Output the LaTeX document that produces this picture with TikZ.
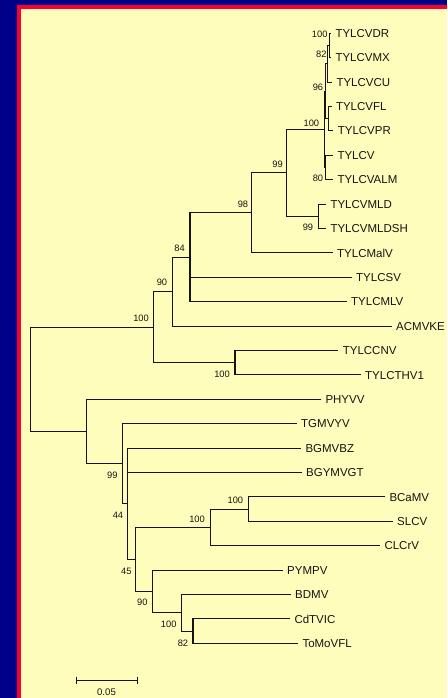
\documentclass[tikz,border=0pt]{standalone}
\usepackage{fontspec}
\setmainfont{Liberation Sans}
\definecolor{bgblue}{RGB}{0,0,136}
\definecolor{frred}{RGB}{250,0,50}
\definecolor{panel}{RGB}{255,253,187}
\definecolor{inkc}{RGB}{20,20,20}
\tikzset{
  br/.style={draw=inkc, line width=1.1pt, line join=miter},
  leaf/.style={anchor=base west, inner sep=0pt, xshift=4.3pt, yshift=-4.1pt,
    font=\fontsize{11.5}{13}\selectfont, text=inkc},
  bs/.style={anchor=east, inner sep=0pt, font=\fontsize{9.3}{11}\selectfont, text=inkc}
}
\begin{document}
\begin{tikzpicture}[x=1pt,y=-1pt]
\useasboundingbox (0,0) rectangle (447,698);
% frame: blue ground, red rim, pale yellow panel
\fill[bgblue] (0,0) rectangle (447,698);
\fill[frred] (17,5.5) rectangle (447,698);
\fill[panel] (21,9.5) rectangle (447,698);

% leaf branch ends
\coordinate (lDR)   at (331,33.3);
\coordinate (lMX)   at (331,57.7);
\coordinate (lCU)   at (332,82.1);
\coordinate (lFL)   at (331.5,106.5);
\coordinate (lPR)   at (333.3,130.9);
\coordinate (lTY)   at (333,155.3);
\coordinate (lALM)  at (333,179.7);
\coordinate (lMLD)  at (326,204.1);
\coordinate (lMLDSH) at (326,228.5);
\coordinate (lMalV) at (332.7,252.9);
\coordinate (lSV)   at (351.7,277.3);
\coordinate (lMLV)  at (346.7,301.7);
\coordinate (lACM)  at (391.7,326.1);
\coordinate (lCNV)  at (338.3,350.5);
\coordinate (lTHV)  at (360.7,374.9);
\coordinate (lPHY)  at (321,399.3);
\coordinate (lTGM)  at (296.7,423.7);
\coordinate (lBZ)   at (301,448.1);
\coordinate (lGT)   at (301.7,472.5);
\coordinate (lBCa)  at (385,496.9);
\coordinate (lSLCV) at (392.7,521.3);
\coordinate (lCLCrV) at (380,545.7);
\coordinate (lPYM)  at (282.7,570.1);
\coordinate (lBDMV) at (290.7,594.5);
\coordinate (lCdT)  at (290,618.9);
\coordinate (lToMo) at (298,643.3);

% internal nodes
\coordinate (n100b) at (329.5,45.5);
\coordinate (n82)   at (327.7,63.8);
\coordinate (nFP)   at (328.3,118.7);
\coordinate (n96)   at (325.9,91.25);
\coordinate (n80)   at (325.7,167.5);
\coordinate (n100a) at (324.3,129.4);
\coordinate (n99m)  at (318.3,216.3);
\coordinate (n99t)  at (286.7,172.85);
\coordinate (n98)   at (251.7,212.9);
\coordinate (n84)   at (190,257.3);
\coordinate (n90)   at (172.3,291.7);
\coordinate (nCN)   at (235,362.7);
\coordinate (n100t) at (153.7,327.2);
\coordinate (n100d) at (248.7,509.1);
\coordinate (n100c) at (210.7,527.4);
\coordinate (n82l)  at (193,631.1);
\coordinate (n100e) at (181.7,612.8);
\coordinate (n90l)  at (152.3,591.45);
\coordinate (n45)   at (135.7,559.4);
\coordinate (n44)   at (127.7,503.75);
\coordinate (n99l)  at (122.7,463.7);
\coordinate (nlow)  at (86.7,431.5);
\coordinate (root)  at (30.3,379.35);

% branches (rectangular cladogram elbows)
\foreach \p/\c in {n100b/lDR, n100b/lMX, n82/n100b, n82/lCU, nFP/lFL, nFP/lPR,
  n96/n82, n96/nFP, n80/lTY, n80/lALM, n100a/n96, n100a/n80,
  n99m/lMLD, n99m/lMLDSH, n99t/n100a, n99t/n99m, n98/n99t, n98/lMalV,
  n84/n98, n84/lSV, n84/lMLV, n90/n84, n90/lACM, nCN/lCNV, nCN/lTHV,
  n100t/n90, n100t/nCN, root/n100t, root/nlow,
  nlow/lPHY, nlow/n99l, n99l/lTGM, n99l/n44,
  n44/lBZ, n44/lGT, n44/n45, n45/n100c, n45/n90l,
  n100c/n100d, n100c/lCLCrV, n100d/lBCa, n100d/lSLCV,
  n90l/lPYM, n90l/n100e, n100e/lBDMV, n100e/n82l, n82l/lCdT, n82l/lToMo}
  \draw[br] (\p) |- (\c);

% taxon names
\node[leaf] (tDR)    at (lDR)    {TYLCVDR};
\node[leaf] (tMX)    at (lMX)    {TYLCVMX};
\node[leaf] (tCU)    at (lCU)    {TYLCVCU};
\node[leaf] (tFL)    at (lFL)    {TYLCVFL};
\node[leaf] (tPR)    at (lPR)    {TYLCVPR};
\node[leaf] (tTY)    at (lTY)    {TYLCV};
\node[leaf] (tALM)   at (lALM)   {TYLCVALM};
\node[leaf] (tMLD)   at (lMLD)   {TYLCVMLD};
\node[leaf] (tMLDSH) at (lMLDSH) {TYLCVMLDSH};
\node[leaf] (tMalV)  at (lMalV)  {TYLCMalV};
\node[leaf] (tSV)    at (lSV)    {TYLCSV};
\node[leaf] (tMLV)   at (lMLV)   {TYLCMLV};
\node[leaf] (tACM)   at (lACM)   {ACMVKE};
\node[leaf] (tCNV)   at (lCNV)   {TYLCCNV};
\node[leaf] (tTHV)   at (lTHV)   {TYLCTHV1};
\node[leaf] (tPHY)   at (lPHY)   {PHYVV};
\node[leaf] (tTGM)   at (lTGM)   {TGMVYV};
\node[leaf] (tBZ)    at (lBZ)    {BGMVBZ};
\node[leaf] (tGT)    at (lGT)    {BGYMVGT};
\node[leaf] (tBCa)   at (lBCa)   {BCaMV};
\node[leaf] (tSLCV)  at (lSLCV)  {SLCV};
\node[leaf] (tCLCrV) at (lCLCrV) {CLCrV};
\node[leaf] (tPYM)   at (lPYM)   {PYMPV};
\node[leaf] (tBDMV)  at (lBDMV)  {BDMV};
\node[leaf] (tCdT)   at (lCdT)   {CdTVIC};
\node[leaf] (tToMo)  at (lToMo)  {ToMoVFL};

% bootstrap values
\node[bs] (b100b) at (327.7,34.5)  {100};
\node[bs] (b82)   at (326.7,54.5)  {82};
\node[bs] (b96)   at (323.3,87.5)  {96};
\node[bs] (b100a) at (319.3,123.3) {100};
\node[bs] (b80)   at (323.3,178)   {80};
\node[bs] (b99t)  at (283,164.3)   {99};
\node[bs] (b99m)  at (313.3,227.3) {99};
\node[bs] (b98)   at (248.3,204.3) {98};
\node[bs] (b84)   at (185,248.3)   {84};
\node[bs] (b90)   at (167.3,282.3) {90};
\node[bs] (b100t) at (149,318.3)   {100};
\node[bs] (bCN)   at (230,374.3)   {100};
\node[bs] (b99l)  at (117.7,475)   {99};
\node[bs] (b44)   at (123.3,515)   {44};
\node[bs] (b45)   at (131.7,571)   {45};
\node[bs] (b90l)  at (147.7,602.7) {90};
\node[bs] (b100c) at (205,519)     {100};
\node[bs] (b100d) at (243.3,500.7) {100};
\node[bs] (b100e) at (176.7,624.3) {100};
\node[bs] (b82l)  at (188.3,643.3) {82};

% scale bar
\coordinate (sbL) at (76,680.3);
\coordinate (sbR) at (137,680.3);
\draw[br, line width=1pt] (sbL) -- (sbR);
\draw[br, line width=1pt] ([yshift=3.7pt]sbL) -- ([yshift=-3.7pt]sbL);
\draw[br, line width=1pt] ([yshift=3.7pt]sbR) -- ([yshift=-3.7pt]sbR);
\node[inner sep=0pt, font=\fontsize{9.6}{11}\selectfont, text=inkc] (sbT) at (106.5,691.7) {0.05};
\end{tikzpicture}
\end{document}
